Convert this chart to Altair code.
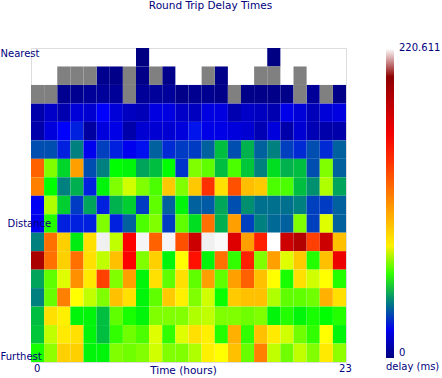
import altair as alt
import pandas as pd

FONT = "DejaVu Sans"
NAVY = "#000080"

hours = list(range(24))
N = None      # no measurement cell drawn
L = "lost"    # grey cell (no reply)

# delay (ms) per distance row (top = nearest) and hour column
delay_ms = [
    [N, N, N, N, N, N, N, N, 0.5, N, N, N, N, N, N, N, N, N, 0.5, N, N, N, N, N],
    [N, N, L, L, L, 2.5, 1.5, L, 1.5, L, 2, N, N, L, 1.5, N, N, L, L, N, L, N, N, N],
    [L, L, 2.9, 2.9, 4.4, 4.8, 4.4, L, 4.4, 4.8, 4.8, 1.5, 2.9, 2.9, 1.5, L, 1.5, 1.5, 1.5, 1.5, L, 4.4, L, 1.5],
    [7.7, 13.3, 8.8, 16.2, 14.7, 23.4, 16.2, 11.8, 10.3, 17.7, 17.7, 13.3, 11.8, 17.7, 17.7, 8.8, 13.3, 11.8, 8.8, 19.2, 16.2, 10.3, 16.2, 17.7],
    [7.7, 17, 23.4, 27.5, 5.9, 17, 18.8, 7.7, 15.1, 15.1, 15.1, 17, 26, 18.8, 18.8, 17, 15.1, 9.6, 17, 7.7, 15.1, 9.6, 7.7, 7.7],
    [33.6, 33.6, 27.5, 39.9, 20.3, 31.6, 27.5, 20.3, 25.5, 35.9, 29, 31, 31, 35.9, 48, 33.6, 46.4, 35.9, 39.9, 31.6, 29, 33.6, 29, 35.9],
    [124.9, 65.9, 51, 105, 33.6, 39.9, 56.3, 55, 44.5, 48, 56.3, 30, 65.9, 63.5, 48, 62, 49, 39.9, 52, 46.4, 48, 33.6, 65.9, 35.9],
    [115.2, 56.3, 39.9, 46, 27.5, 55, 65.9, 71.9, 65.9, 62, 92.6, 65.9, 92.6, 140, 85, 130, 95.3, 92, 62, 62, 48, 42, 69.5, 44.5],
    [21.5, 69.5, 50, 31, 44.5, 27.5, 46.4, 50, 31, 63.5, 35.9, 55, 35.9, 35, 45, 33.6, 42, 37.8, 37.8, 37.8, 39.9, 31.6, 31, 35.9],
    [20.3, 59, 27.5, 27.5, 27.5, 65.9, 27.5, 35.9, 62, 65.9, 31, 63.5, 52, 120, 46, 105, 31.6, 39.9, 37, 35.9, 65.9, 31.6, 73, 35.9],
    [39.9, 120, 90, 54, 85, 212, 70.7, 155, 215, 125, 215, 130, 175, 212, 218, 168, 105, 145, 220.611, 175, 185, 135, 175, 95],
    [188, 120, 90, 120, 85, 70.7, 95, 155, 65.9, 90, 55, 75.4, 150, 55, 120, 60, 145, 65.9, 105, 73, 92, 59, 95, 162],
    [44.5, 63.5, 73, 110, 82, 135, 65.9, 105, 55, 85, 63.5, 85, 63.5, 105, 63.5, 105, 125, 95, 75.4, 58, 85, 71.9, 75.4, 59],
    [39.9, 64, 115, 75.4, 70.7, 65.9, 95, 85, 55, 63.5, 92, 80, 65.9, 71.9, 57, 92, 95, 95, 69.5, 63.5, 63.5, 64.7, 100, 85],
    [48, 85, 80, 55, 55, 48, 63.5, 58, 55, 65.9, 65.9, 66, 69.5, 70.7, 65.9, 65.9, 64.7, 65.9, 55, 59, 55, 58, 56.3, 59],
    [49, 70.7, 82, 85, 55, 48, 60, 64.7, 62, 73, 60, 73, 85, 80, 59, 100, 60, 95, 82, 71.9, 64.7, 60, 75.4, 55],
    [58, 67, 90, 90, 55, 55, 65.9, 64.7, 66, 71.9, 65.9, 65.9, 69.5, 80, 75.4, 95, 64, 115, 70.7, 64.7, 70.7, 66, 82, 67],
]

distance_labels = ["Nearest", "Distance", "Furthest"]
distance_label_pos = [0.487, 9.637, 16.89]
hour_labels = ["0", "23"]
hour_label_pos = [0.43, 23.92]

delay_max = 220.611
color_stops = [0, 23.4, 56.3, 75.4, 155, 205, 212, delay_max]
color_range = ["#000080", "#0000ff", "#00ff00", "#ffff00", "#ff0000", "#800000", "#f0f0f0", "#ffffff"]

records = []
for r, row in enumerate(delay_ms):
    for c, v in enumerate(row):
        if v is None:
            continue
        records.append({
            "hour": hours[c], "hour_end": hours[c] + 1,
            "dist": r, "dist_end": r + 1,
            "delay": None if v == L else v,
            "lost": v == L,
        })
df = pd.DataFrame(records)

x_enc = alt.X(
    "hour:Q",
    scale=alt.Scale(domain=[0, 24], nice=False, zero=False),
    axis=alt.Axis(
        values=hour_label_pos,
        labelExpr=f"datum.value < 1 ? '{hour_labels[0]}' : '{hour_labels[1]}'",
        title="Time (hours)", titleX=152, titleY=11.6, titleAlign="center",
        titleBaseline="alphabetic", titleFont=FONT, titleFontSize=10.5,
        titleFontWeight="normal", titleColor=NAVY,
        labelFont=FONT, labelFontSize=10, labelColor=NAVY, labelBaseline="alphabetic",
        labelPadding=9, labelFlush=False, ticks=False, tickSize=0, domain=False, grid=False,
    ),
)
y_enc = alt.Y(
    "dist:Q",
    scale=alt.Scale(domain=[0, 17], reverse=True, nice=False, zero=False),
    axis=alt.Axis(
        values=distance_label_pos,
        labelExpr=(f"datum.value < 1 ? '{distance_labels[0]}' : datum.value < 10 ? "
                   f"'{distance_labels[1]}' : '{distance_labels[2]}'"),
        title=None, labelFont=FONT, labelFontSize=10, labelColor=NAVY,
        labelAlign="left", labelBaseline="alphabetic",
        labelPadding={"condition": {"test": "datum.value > 5 && datum.value < 12", "value": 24},
                      "value": 31},
        ticks=False, tickSize=0, domain=False, grid=False, zindex=1,
    ),
)

base = alt.Chart(df)

cells = base.transform_filter("!datum.lost").mark_rect().encode(
    x=x_enc, x2="hour_end:Q", y=y_enc, y2="dist_end:Q",
    color=alt.Color(
        "delay:Q",
        scale=alt.Scale(domain=color_stops, range=color_range, interpolate="rgb"),
        legend=alt.Legend(
            title="delay (ms)", orient="none", legendX=355, legendY=0,
            direction="vertical", gradientLength=310, gradientThickness=8,
            gradientStrokeWidth=0, values=[0, delay_max - 0.0001],
            labelExpr="datum.value > 1 ? format(datum.value, '.3f') : '0'",
            labelFont=FONT, labelFontSize=10, labelColor=NAVY, labelOffset=5,
            titleOrient="bottom", titleFont=FONT, titleFontSize=10,
            titleFontWeight="normal", titleColor=NAVY, titlePadding=4,
            titleAnchor="start", padding=0,
        ),
    ),
)

lost = base.transform_filter("datum.lost").mark_rect(color="#808080").encode(
    x=x_enc, x2="hour_end:Q", y=y_enc, y2="dist_end:Q",
)

chart = alt.layer(cells, lost).properties(
    width=315, height=314,
    title=alt.Title("Round Trip Delay Times", font=FONT, fontSize=10.5,
                    fontWeight="normal", color=NAVY, anchor="middle", dx=22, dy=-33),
    autosize=alt.AutoSizeParams(type="none"),
    padding={"left": 31, "top": 48, "right": 96, "bottom": 16},
).configure_view(stroke=None).configure(background="white").configure_axisY(zindex=1)

chart.save("out.html", embed_options={"renderer": "svg", "actions": False})
